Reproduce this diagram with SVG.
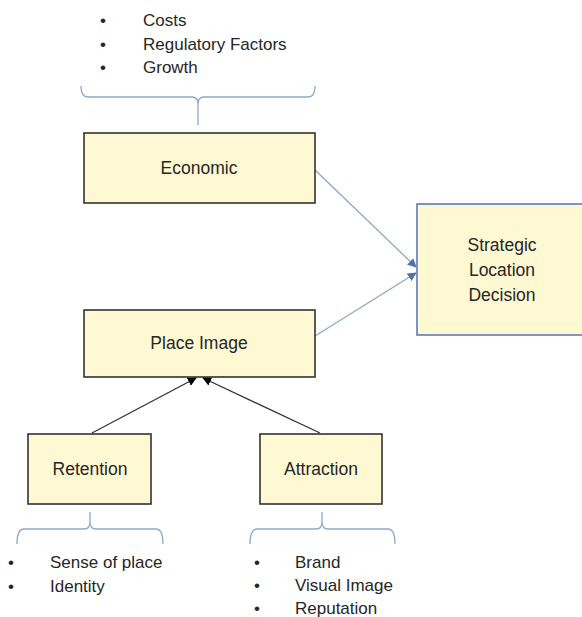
<svg xmlns="http://www.w3.org/2000/svg" width="582" height="617" viewBox="0 0 582 617">
<style>
.box{fill:#FFF9D3;stroke:#333;stroke-width:1.6}
.sbox{fill:#FFF9D3;stroke:#5B7DB8;stroke-width:1.6}
.t{font-family:"Liberation Sans",Arial,sans-serif;font-size:17px;fill:#262626}
.b{font-size:17.5px}
.tc{text-anchor:middle}
.brace{fill:none;stroke:#8EA6CA;stroke-width:1.3}
.blue{stroke:#8EA6CA;stroke-width:1.3;fill:none}
.blk{stroke:#333;stroke-width:1.3;fill:none}
</style>
<defs>
<marker id="ab" viewBox="0 0 10 10" refX="9" refY="5" markerWidth="9" markerHeight="9" orient="auto" markerUnits="userSpaceOnUse"><path d="M0,0 L10,5 L0,10 z" fill="#4A72B0"/></marker>
<marker id="ak" viewBox="0 0 10 10" refX="9" refY="5" markerWidth="9" markerHeight="9" orient="auto" markerUnits="userSpaceOnUse"><path d="M0,0 L10,5 L0,10 z" fill="#000"/></marker>
</defs>
<g id="connectors">
<line class="blue" x1="315" y1="170" x2="416" y2="267" marker-end="url(#ab)"/>
<line class="blue" x1="315" y1="336" x2="416" y2="273" marker-end="url(#ab)"/>
<line class="blk" x1="92" y1="433" x2="196" y2="378" marker-end="url(#ak)"/>
<line class="blk" x1="320" y1="433" x2="203" y2="378" marker-end="url(#ak)"/>
</g>
<g id="top-list">
<text class="t" x="100" y="26">•</text><text class="t" x="143" y="26">Costs</text>
<text class="t" x="100" y="50">•</text><text class="t" x="143" y="50">Regulatory Factors</text>
<text class="t" x="100" y="73">•</text><text class="t" x="143" y="73">Growth</text>
<path class="brace" d="M81,86 Q81,97 88,97 L192,97 Q198,97 198,104 L198,125 M198,104 Q198,97 204,97 L308,97 Q315,97 315,86"/>
</g>
<g id="economic">
<rect class="box" x="84" y="133" width="231" height="70"/>
<text class="t b tc" x="199" y="174">Economic</text>
</g>
<g id="strategic">
<rect class="sbox" x="417" y="204" width="170" height="131"/>
<text class="t b tc" x="502" y="251">Strategic</text>
<text class="t b tc" x="502" y="276">Location</text>
<text class="t b tc" x="502" y="301">Decision</text>
</g>
<g id="place-image">
<rect class="box" x="84" y="310" width="231" height="67"/>
<text class="t b tc" x="199" y="349">Place Image</text>
</g>
<g id="retention">
<rect class="box" x="28" y="434" width="123" height="70"/>
<text class="t b tc" x="90" y="475">Retention</text>
<path class="brace" d="M17,544 Q17,529 24,529 L84,529 Q90,529 90,522 L90,512 M90,522 Q90,529 96,529 L156,529 Q163,529 163,544"/>
<text class="t" x="8" y="568">•</text><text class="t" x="50" y="568">Sense of place</text>
<text class="t" x="8" y="592">•</text><text class="t" x="50" y="592">Identity</text>
</g>
<g id="attraction">
<rect class="box" x="260" y="434" width="122" height="70"/>
<text class="t b tc" x="321" y="475">Attraction</text>
<path class="brace" d="M250,544 Q250,529 257,529 L316,529 Q322,529 322,522 L322,512 M322,522 Q322,529 328,529 L388,529 Q395,529 395,544"/>
<text class="t" x="254" y="568">•</text><text class="t" x="295" y="568">Brand</text>
<text class="t" x="254" y="591">•</text><text class="t" x="295" y="591">Visual Image</text>
<text class="t" x="254" y="614">•</text><text class="t" x="295" y="614">Reputation</text>
</g>
</svg>
